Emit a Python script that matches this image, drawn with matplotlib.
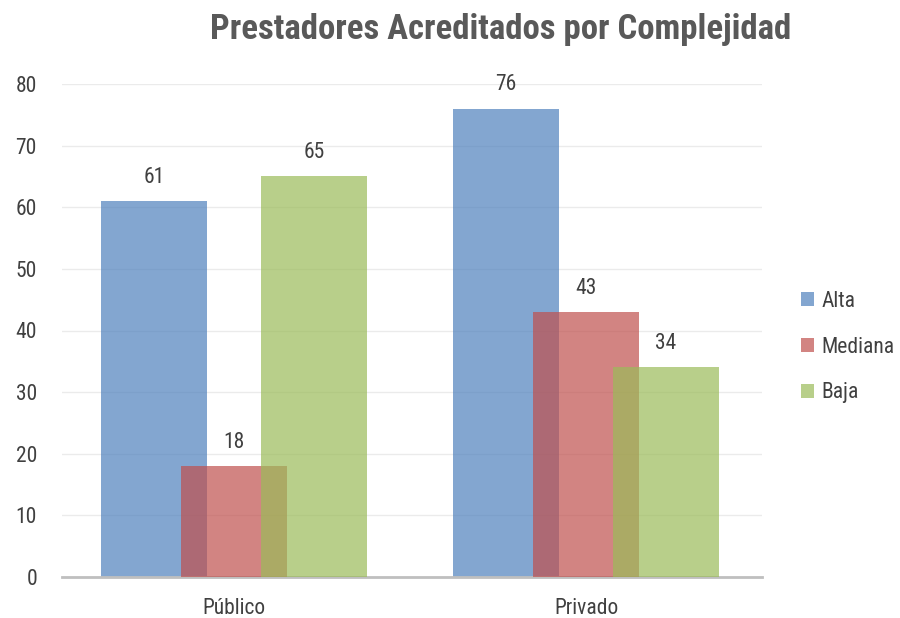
import matplotlib
matplotlib.use("Agg")
import matplotlib.pyplot as plt
import numpy as np
from matplotlib import font_manager

fonts = font_manager.fontManager.ttflist
names = {f.name for f in fonts}
def pick(prefs, need_bold=False):
    for p in prefs:
        if p in names:
            if not need_bold:
                return p
            if any(f.name == p and (f.weight in (700, "bold") or "Bold" in f.fname) and "[" not in f.fname for f in fonts):
                return p
    return "DejaVu Sans"

BODY = pick(["Liberation Sans Narrow", "Arial Narrow", "Roboto Condensed", "PT Sans Narrow", "Archivo Narrow", "DejaVu Sans"])
TITLE = pick(["Liberation Sans Narrow", "Arial Narrow", "Roboto Condensed", "PT Sans Narrow", "Fira Sans Condensed", "DejaVu Sans"], need_bold=True)
plt.rcParams['font.family'] = [BODY, 'DejaVu Sans']
NARROW_PT = BODY == "PT Sans Narrow"
body_size = 16.5 if NARROW_PT else 15.5
title_size = 28 if TITLE == "PT Sans Narrow" else 25

categories = ["Público", "Privado"]
series_names = ["Alta", "Mediana", "Baja"]
alta = [61, 76]
mediana = [18, 43]
baja = [65, 34]
colors = ["#4F81BD", "#C0504D", "#9BBB59"]

fig = plt.figure(figsize=(9, 6.18), dpi=100)
ax = fig.add_axes([62/900, 1-577/618, 700/900, (577-84)/618])

x = np.arange(len(categories))
width = 0.301
offset = 0.227
text_color = "#404040"
for i, (name, vals, c) in enumerate(zip(series_names, [alta, mediana, baja], colors)):
    pos = x + (i-1)*offset
    ax.bar(pos, vals, width=width, color=c, alpha=0.7, label=name, zorder=2+i, linewidth=0)
    for p, v in zip(pos, vals):
        ax.annotate(str(v), (p, v), xytext=(0, 9.5), textcoords="offset points",
                    ha="center", va="bottom", fontsize=body_size, color=text_color)

ax.set_xlim(-0.489, 1.5)
ax.set_ylim(0, 80)
ax.set_yticks(range(0, 81, 10))
ax.set_xticks(x)
ax.set_xticklabels(categories)
ax.grid(axis="y", color="#EBEBEB", linewidth=1, zorder=0)
ax.set_axisbelow(True)
for s in ["top", "right", "left"]:
    ax.spines[s].set_visible(False)
ax.spines["bottom"].set_color("#BFBFBF")
ax.spines["bottom"].set_linewidth(2)
ax.tick_params(axis="both", length=0, labelsize=body_size, labelcolor=text_color)
ax.tick_params(axis="x", pad=15)
ax.tick_params(axis="y", pad=18)

fig.text(501/900, 1-29/618, "Prestadores Acreditados por Complejidad", fontsize=title_size,
         fontweight="bold", color="#595959", ha="center", va="center",
         family=[TITLE, "DejaVu Sans"])

handles, labels = ax.get_legend_handles_labels()
fig.legend(handles, labels, loc="center left", bbox_to_anchor=(801/900, 1-347/618),
           frameon=False, fontsize=body_size, handlelength=0.6, handleheight=0.6,
           handletextpad=0.35, labelspacing=1.15, borderpad=0, borderaxespad=0,
           labelcolor="#404040")

fig.savefig("out.png", dpi=100)
